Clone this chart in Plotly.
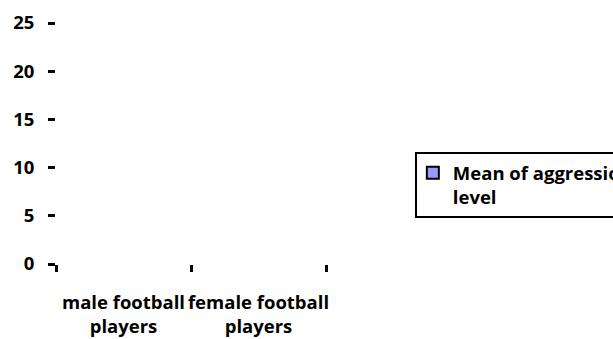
import plotly.graph_objects as go

categories = ["male football<br>players", "female football<br>players"]
mean_aggression = [0, 0]
series_name = "Mean of aggression<br>level"
y_ticks = [0, 5, 10, 15, 20, 25]

FONT = "Open Sans"
FS = 18.5
FILL = "#9999FF"

W, H = 613, 339
L, R, T, B = 55.5, 287, 22.5, 75

fig = go.Figure()
# the data bars (zero height, nothing visible, as in the reference)
fig.add_trace(go.Bar(
    x=categories, y=mean_aggression, name=series_name,
    marker=dict(color=FILL, line=dict(color="#000000", width=0)),
    showlegend=False, legendgroup="s",
))
# legend entry with an outlined swatch
fig.add_trace(go.Bar(
    x=[None], y=[None], name=series_name,
    marker=dict(color=FILL, line=dict(color="#000000", width=2)),
    showlegend=True, legendgroup="s",
))

pw = W - L - R
ph = H - T - B
lx = (415 - L) / pw
ly = (H - B - 152) / ph

fig.update_layout(
    width=W, height=H,
    barmode="overlay",
    margin=dict(l=L, r=R, t=T, b=B, autoexpand=False),
    paper_bgcolor="white", plot_bgcolor="white",
    font=dict(family=FONT, size=FS, color="#000000", weight="bold"),
    showlegend=True,
    legend=dict(
        x=lx, y=ly, xanchor="left", yanchor="top",
        bordercolor="#000000", borderwidth=2, bgcolor="white",
        font=dict(family=FONT, size=FS, color="#000000", weight="bold"),
        itemwidth=30, valign="top", indentation=-4,
    ),
    xaxis=dict(
        showgrid=False, showline=False, zeroline=False,
        ticks="outside", tickson="boundaries", ticklen=7, tickwidth=2.5,
        tickcolor="#000000", tickangle=0,
        tickfont=dict(family=FONT, size=FS, color="#000000", weight="bold"),
        ticklabelstandoff=25,
    ),
    yaxis=dict(
        range=[0, 25], tickvals=y_ticks, showgrid=False, showline=False,
        zeroline=False, ticks="outside", ticklen=7, tickwidth=2.5,
        tickcolor="#000000",
        tickfont=dict(family=FONT, size=FS, color="#000000", weight="bold"),
        ticklabelstandoff=10,
    ),
)

fig.write_html("out.html")
